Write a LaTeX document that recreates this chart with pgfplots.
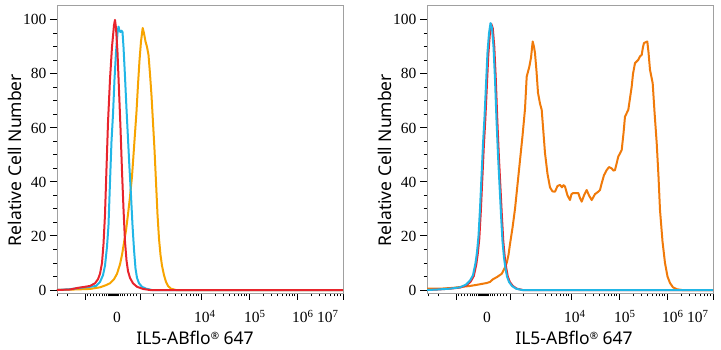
\documentclass[border=0pt]{standalone}
\usepackage{fontspec}
\setmainfont{Noto Sans}
\newfontfamily\tickfont{Liberation Serif}
\usepackage{pgfplots}
\pgfplotsset{compat=1.18}
\definecolor{cred}{HTML}{E8242C}
\definecolor{ccyan}{HTML}{21B6E6}
\definecolor{corangeA}{HTML}{F7A400}
\definecolor{corangeB}{HTML}{F07A0A}
\definecolor{boxgray}{HTML}{A0A0A0}
\pgfplotsset{
  flowax/.style={
    scale only axis, width=286pt, height=288pt,
    anchor=south west,
    xmin=57, xmax=343, ymin=-1.1, ymax=105.5,
    axis line style={draw=boxgray, line width=0.9pt},
    tick align=outside,
    major tick length=7pt, minor tick length=3.5pt,
    tick style={black, line width=1pt},
    xtick={86,140,201,249,297,343},
    minor xtick={58,68,88,91,94,97,100,102,104,106,108,109,110,111,112,113,114,115,116,117,118,120,122,124,127,130,133,136,153,167.4,175.9,181.9,186.6,190.4,193.6,196.3,198.8,215.4,223.9,229.9,234.6,238.4,241.6,244.3,246.8,263.4,271.9,277.9,282.6,286.4,289.6,292.3,294.8,311.4,319.9,325.9,330.6,334.4,337.6,340.3},
    xticklabels={},
    ytick={0,20,40,60,80,100},
    minor ytick={5,10,15,25,30,35,45,50,55,65,70,75,85,90,95},
    yticklabels={0,20,40,60,80,100},
    yticklabel style={font=\tickfont\fontsize{15.5}{16}\selectfont, xshift=0pt},
    xtick pos=bottom, ytick pos=left,
    every axis plot/.append style={line width=2pt, line join=round},
  }
}
\begin{document}
\begin{tikzpicture}
\useasboundingbox (0,0) rectangle (721pt,350pt);
% ---------------- left panel
\begin{axis}[flowax, at={(57pt,57pt)}]
\addplot[corangeA] coordinates {(57,0)(75,0.2)(90,0.4)(100,1)(106,1.8)(110,2.5)(114,4)(117,6)(120,9.5)(122,13)(124,17.5)(126,22)(128,28)(130,34.5)(132,42)(133.5,50)(135,58)(136.5,66)(138,76)(139.5,85)(141,92)(142.7,97)(144,95)(145.5,92)(147,90)(148.5,87)(150,80)(151.5,72)(153,62)(154.5,52)(156,40)(157.5,28)(159,19)(160.5,13)(162,9)(164,5.5)(166,3)(168,1.5)(171,0.5)(176,0)(343,0)};
\addplot[ccyan] coordinates {(57,0)(70,0.3)(80,0.8)(90,1.2)(96,1.5)(100,3)(103,5.5)(105,9)(107,16)(108.5,24)(110,40)(111.5,55)(113,65)(114.5,78)(116,88)(117.5,95)(118.5,97.5)(119.5,96)(120.5,95.5)(121.5,96)(122.5,95.5)(123.5,90)(125,79)(126.5,67)(128,56)(129.5,45)(131,35)(132.5,24)(134,15)(135.5,8)(137,4.5)(139,2.5)(142,1.2)(146,0.5)(152,0)(343,0)};
\addplot[cred] coordinates {(57,0)(70,0.2)(78,0.8)(85,1.2)(90,1.5)(95,2.5)(98,4)(100,6)(102,10)(103.5,17)(105,28)(106.5,45)(108,62)(110,78)(112,90)(114,98)(115,100)(116,97)(117.5,88)(119,74)(120.5,60)(122,44)(123.5,30)(125,18)(126.5,11)(128,7)(130,4.5)(133,2.5)(137,1.2)(143,0.4)(150,0)(343,0)};
\end{axis}
% ---------------- right panel
\begin{axis}[flowax, at={(427pt,57pt)}]
\addplot[corangeB] coordinates {(57,0.5)(70,0.5)(83,0.8)(92,1.2)(100,1.5)(108,2)(116.7,2.6)(120,3)(123,4)(127,4.8)(131.7,6)(134.5,8)(136.7,10)(138.5,13)(140,17)(142.5,23)(145,30)(147.5,39)(150,48)(152.5,57)(155,67)(156.7,79)(159.3,82.6)(161,86)(162.7,92)(164,90)(165,87.7)(166.5,81)(168,73)(170,69)(171.7,66.7)(173.5,58)(175,50.7)(177.5,43)(180,38)(182.5,36.5)(185,36.4)(187.5,38.5)(190,38.9)(192,38)(193.5,38.8)(195,38.3)(197.5,35)(200,33.3)(201.5,35.5)(203.3,35.9)(206,35.9)(208.3,35.9)(210,34)(211.7,32.7)(214,35)(216.7,37)(219,35)(221.7,33.3)(225,35.5)(228.3,36.4)(230,37)(231.7,39.5)(234,42.5)(236.7,44.4)(239,45.5)(241.7,45)(243.5,44.2)(245,44.4)(248.3,49.4)(251.7,51.8)(253.5,58)(255,64.2)(258.3,66.7)(261.7,75.3)(263,80)(265,84)(268.3,85.2)(270,86.5)(271.7,87)(273,90)(274,91.4)(276,91.8)(277.3,92)(278.5,88)(280,81.5)(282.7,76.5)(284.5,66)(286.7,54.4)(288.5,42)(290,29.6)(292.5,18)(295,10)(297.5,5)(300,2.6)(303,1)(306.7,0.3)(312,0)(343,0)};
\addplot[cred] coordinates {(57,0)(68,0.2)(80,0.5)(90,0.9)(96.8,1.8)(100.8,3.2)(103.8,5.2)(106.3,9.5)(107.8,13.5)(109.3,19)(110.8,29)(112.3,41)(113.8,53)(115.3,63)(116.8,75)(118.3,87)(119.8,94.5)(121.3,98.5)(122.8,96.8)(124.3,90)(125.8,78)(127.3,63)(128.8,50)(130.3,39)(131.8,28)(133.3,18)(134.8,12)(136.3,8)(137.8,5)(139.8,3)(142.8,1.5)(146.8,0.5)(153,0)(343,0)};
\addplot[ccyan] coordinates {(57,0)(68,0.2)(80,0.5)(90,1)(96,2)(100,3.5)(103,5.5)(105.5,10)(107,14)(108.5,20)(110,30)(111.5,42)(113,54)(114.5,64)(116,76)(117.5,88)(119,95)(120.5,98.8)(122,97)(123.5,90)(125,78)(126.5,63)(128,50)(129.5,39)(131,28)(132.5,18)(134,12)(135.5,8)(137,5)(139,3)(142,1.5)(146,0.5)(152,0)(343,0)};
\end{axis}
% ---------------- x tick labels and axis titles
\begin{scope}[every node/.style={inner sep=0pt, font=\tickfont\fontsize{15.5}{16}\selectfont}]
\foreach \off in {0,370}{
  \node[anchor=base] at (117pt+\off pt,27pt) {0};
  \node[anchor=base west] at (194pt+\off pt,27pt) {10\textsuperscript{4}};
  \node[anchor=base west] at (244pt+\off pt,27pt) {10\textsuperscript{5}};
  \node[anchor=base west] at (292pt+\off pt,27pt) {10\textsuperscript{6}};
  \node[anchor=base west] at (317pt+\off pt,27pt) {10\textsuperscript{7}};
}
\end{scope}
\begin{scope}[every node/.style={inner sep=0pt, font=\fontsize{17.5}{18}\selectfont}]
\node at (195pt,12pt) {IL5-ABflo{\fontsize{10}{10}\selectfont\raisebox{5pt}{®}} 647};
\node at (574pt,12pt) {IL5-ABflo{\fontsize{10}{10}\selectfont\raisebox{5pt}{®}} 647};
\node[rotate=90] at (15pt,190pt) {Relative Cell Number};
\node[rotate=90] at (385pt,190pt) {Relative Cell Number};
\end{scope}
\end{tikzpicture}
\end{document}
